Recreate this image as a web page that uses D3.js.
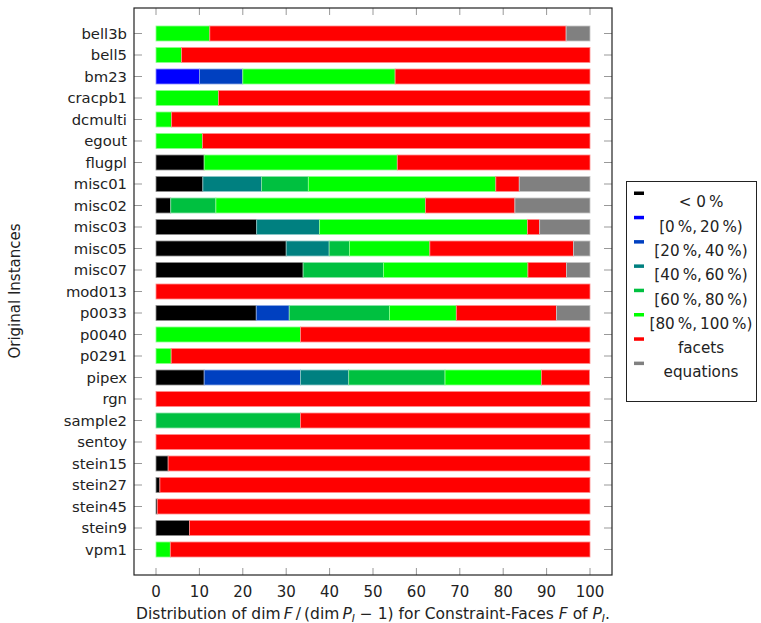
<!DOCTYPE html>
<html><head><meta charset="utf-8">
<script src="https://cdn.jsdelivr.net/npm/d3@7"></script>
<style>body{margin:0;background:#fff}svg{display:block}text{font-family:"DejaVu Sans",sans-serif}</style>
</head><body><svg id="c" width="761" height="623"></svg>
<script>
const categories = ["bell3b","bell5","bm23","cracpb1","dcmulti","egout","flugpl","misc01","misc02","misc03","misc05","misc07","mod013","p0033","p0040","p0291","pipex","rgn","sample2","sentoy","stein15","stein27","stein45","stein9","vpm1"];
const seriesNames = ["< 0\u2009%","[0\u2009%,\u200920\u2009%)","[20\u2009%,\u200940\u2009%)","[40\u2009%,\u200960\u2009%)","[60\u2009%,\u200980\u2009%)","[80\u2009%,\u2009100\u2009%)","facets","equations"];
const seriesColors = ["#000000","#0000ff","#0040c0","#008080","#00c040","#00ff00","#ff0000","#808080"];
const neg      = [0,0,0,0,0,0,11.1,10.8,3.4,23.2,30.0,33.9,0,23.1,0,0,11.1,0,0,0,2.8,0.9,0.3,7.7,0];
const p0_20    = [0,0,10.0,0,0,0,0,0,0,0,0,0,0,0,0,0,0,0,0,0,0,0,0,0,0];
const p20_40   = [0,0,10.0,0,0,0,0,0,0,0,0,0,0,7.6,0,0,22.2,0,0,0,0,0,0,0,0];
const p40_60   = [0,0,0,0,0,0,0,13.5,0,14.5,9.9,0,0,0,0,0,11.1,0,0,0,0,0,0,0,0];
const p60_80   = [0,0,0,0,0,0,0,10.8,10.4,0,4.7,18.5,0,23.1,0,0,22.2,0,33.3,0,0,0,0,0,0];
const p80_100  = [12.4,5.9,35.1,14.4,3.6,10.7,44.5,43.2,48.3,47.9,18.5,33.3,0,15.4,33.3,3.5,22.2,0,0,0,0,0,0,0,3.3];
const facets   = [82.1,94.1,44.9,85.6,96.4,89.3,44.4,5.4,20.6,2.8,33.1,8.9,100,23.1,66.7,96.5,11.1,100,66.7,100,97.2,99.1,99.7,92.3,96.7];
const equations= [5.5,0,0,0,0,0,0,16.3,17.3,11.6,3.8,5.4,0,7.7,0,0,0,0,0,0,0,0,0,0,0];
const xTicks = [0,10,20,30,40,50,60,70,80,90,100];

const seriesData = [neg,p0_20,p20_40,p40_60,p60_80,p80_100,facets,equations];
const table = categories.map((c,i)=>{const o={cat:c};seriesData.forEach((s,k)=>o["s"+k]=s[i]);return o;});
const keys = seriesData.map((_,k)=>"s"+k);
const stack = d3.stack().keys(keys)(table);

const svg = d3.select("#c");
const L=134,R=612,T=8,B=575;
const x = d3.scaleLinear().domain([0,100]).range([156,590]);
const y = d3.scalePoint().domain(categories).range([33.5,549.5]);
const bh = 15;

stack.forEach((layer,k)=>{
  const col = seriesColors[k];
  const light = d3.interpolateRgb(col,"#ffffff")(0.55);
  svg.append("g").selectAll("rect").data(layer.filter(d=>d[1]-d[0]>0)).join("rect")
    .attr("x",d=>x(d[0])).attr("width",d=>x(d[1])-x(d[0]))
    .attr("y",d=>y(d.data.cat)-bh/2).attr("height",bh)
    .attr("fill",col).attr("stroke",light).attr("stroke-width",0.8);
});

const tickCol="#999";
const g=svg.append("g");
xTicks.forEach(t=>{
  g.append("line").attr("x1",x(t)).attr("x2",x(t)).attr("y1",B).attr("y2",B-7).attr("stroke",tickCol);
  g.append("line").attr("x1",x(t)).attr("x2",x(t)).attr("y1",T).attr("y2",T+7).attr("stroke",tickCol);
  g.append("text").attr("x",x(t)).attr("y",597).attr("text-anchor","middle").attr("font-size",15).attr("fill","#222").text(t);
});
categories.forEach(c=>{
  g.append("line").attr("x1",L).attr("x2",L+8).attr("y1",y(c)).attr("y2",y(c)).attr("stroke",tickCol);
  g.append("line").attr("x1",R).attr("x2",R-8).attr("y1",y(c)).attr("y2",y(c)).attr("stroke",tickCol);
  g.append("text").attr("x",127).attr("y",y(c)).attr("dy","0.35em").attr("text-anchor","end").attr("font-size",14.8).attr("fill","#222").text(c);
});
svg.append("rect").attr("x",L).attr("y",T).attr("width",R-L).attr("height",B-T).attr("fill","none").attr("stroke","#222").attr("stroke-width",1.2);

const xt = svg.append("text").attr("x",373).attr("y",619).attr("text-anchor","middle").attr("font-size",15.5).attr("fill","#222");
xt.append("tspan").text("Distribution of dim\u2009");
xt.append("tspan").attr("font-style","italic").text("F");
xt.append("tspan").text("\u2009/\u2009(dim\u2009");
xt.append("tspan").attr("font-style","italic").text("P");
xt.append("tspan").attr("font-style","italic").attr("font-size",10.5).attr("dy",3).text("I");
xt.append("tspan").attr("dy",-3).text(" \u2212 1) for Constraint-Faces ");
xt.append("tspan").attr("font-style","italic").text("F");
xt.append("tspan").text(" of ");
xt.append("tspan").attr("font-style","italic").text("P");
xt.append("tspan").attr("font-style","italic").attr("font-size",10.5).attr("dy",3).text("I");
xt.append("tspan").attr("dy",-3).text(".");

svg.append("text").attr("transform","translate(20,291) rotate(-90)").attr("text-anchor","middle").attr("font-size",15).attr("fill","#222").text("Original Instances");

const lg = svg.append("g");
lg.append("rect").attr("x",626.5).attr("y",181.5).attr("width",130).attr("height",220).attr("fill","#fff").attr("stroke","#222");
seriesNames.forEach((n,k)=>{
  const yy = 193 + k*24.3;
  lg.append("rect").attr("x",634).attr("y",yy-1.5).attr("width",10).attr("height",3.5).attr("fill",seriesColors[k]);
  lg.append("text").attr("x",701).attr("y",yy+9).attr("dy","0.35em").attr("text-anchor","middle").attr("font-size",15.2).attr("fill","#222").text(n);
});
</script></body></html>
